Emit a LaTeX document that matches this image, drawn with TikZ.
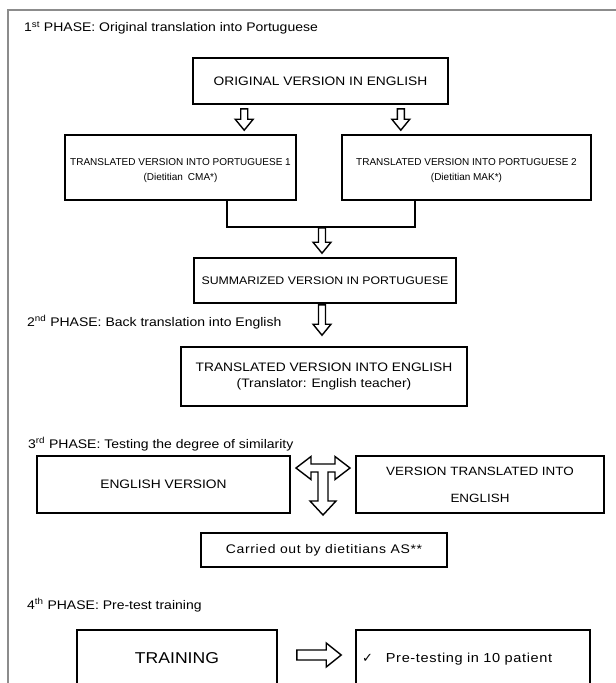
\documentclass[tikz,border=0pt]{standalone}
\usepackage{fontspec}
\setmainfont{Liberation Sans}[FakeStretch=1.12]
\newfontfamily\narrowfont{Liberation Sans}
\newfontfamily\widefont{Liberation Sans}[FakeStretch=1.12, LetterSpace=5]
\newfontfamily\symfont{DejaVu Sans}
\usetikzlibrary{calc}
\newcommand\fs[2]{\fontsize{#1}{#2}\selectfont}
\tikzset{
  box/.style={draw, line width=1.6pt, align=center, inner sep=3pt},
  phase/.style={anchor=west, inner sep=0pt, font=\fs{12.5}{14}},
  conn/.style={line width=1.6pt},
  frame/.style={draw=black!45, line width=1.1pt},
  hollow/.style n args={3}{fill=white, draw, line width=1.4pt, to path={
    let \p1=(\tikztostart), \p2=(\tikztotarget),
        \n1={atan2(\y2-\y1,\x2-\x1)} in
    ($(\p1)+(\n1+90:#1)$) --
    ($(\p2)+(\n1+180:#3)+(\n1+90:#1)$) --
    ($(\p2)+(\n1+180:#3)+(\n1+90:#2)$) --
    (\p2) --
    ($(\p2)+(\n1+180:#3)+(\n1-90:#2)$) --
    ($(\p2)+(\n1+180:#3)+(\n1-90:#1)$) --
    ($(\p1)+(\n1-90:#1)$) -- cycle}},
}

\begin{document}
\begin{tikzpicture}[x=1pt, y=-1pt]
  \useasboundingbox (0,0) rectangle (616,683);
  \draw[frame] (8,700) -- (8,10) -- (616,10);

  % 1st phase
  \node[phase] (ph1) at (24,28)
    {1\textsuperscript{st} PHASE: Original translation into Portuguese};
  \node[box, minimum width=255pt, minimum height=46pt, font=\fs{12.3}{15}]
    (orig) at (320.5,81) {ORIGINAL VERSION IN ENGLISH};
  \node[box, minimum width=231pt, minimum height=65pt, font=\narrowfont\fs{10}{15}]
    (ptone) at (180.5,167.5)
    {\rule{0pt}{14pt}TRANSLATED VERSION INTO PORTUGUESE 1\\(Dietitian\enspace CMA*)};
  \node[box, minimum width=249pt, minimum height=65pt, font=\narrowfont\fs{10}{15}]
    (pttwo) at (466.5,167.5)
    {\rule{0pt}{14pt}TRANSLATED VERSION INTO PORTUGUESE 2\\(Dietitian MAK*)};
  \node[box, minimum width=262pt, minimum height=45pt, font=\fs{11}{14}]
    (summ) at (325,280.5) {SUMMARIZED VERSION IN PORTUGUESE};

  \coordinate (a1) at ([xshift=52pt,yshift=-4pt]orig.south west);
  \coordinate (a2) at ([xshift=-48pt,yshift=-4pt]orig.south east);
  \coordinate (jn) at (322,227);
  \draw[hollow={3.5pt}{9pt}{11pt}] (a1) to ([yshift=4pt]a1 |- ptone.north);
  \draw[hollow={3.5pt}{9pt}{11pt}] (a2) to ([yshift=4pt]a2 |- ptone.north);
  \draw[conn] ([xshift=46.5pt]ptone.south) |- (jn)
    -| ([xshift=-51.5pt]pttwo.south);
  \draw[hollow={3.5pt}{9pt}{11pt}] ([yshift=-1pt]jn) to ([yshift=4pt]jn |- summ.north);

  % 2nd phase
  \node[phase] (ph2) at (27,322)
    {2\textsuperscript{nd} PHASE: Back translation into English};
  \node[box, minimum width=286pt, minimum height=59pt, font=\fs{12.3}{16}]
    (back) at (324,376.5)
    {TRANSLATED VERSION INTO ENGLISH\\(Translator: English teacher)};
  \draw[hollow={3.5pt}{9pt}{11pt}] ([yshift=-1pt]jn |- summ.south)
    to ([yshift=11pt]jn |- back.north);

  % 3rd phase
  \node[phase] (ph3) at (28,444)
    {3\textsuperscript{rd} PHASE: Testing the degree of similarity};
  \node[box, minimum width=253pt, minimum height=57pt, font=\fs{12.3}{15}]
    (engv) at (163.5,484.5) {ENGLISH VERSION};
  \node[box, minimum width=248pt, minimum height=57pt, font=\fs{12}{27}]
    (vtrans) at (480,484.5) {VERSION TRANSLATED INTO\\ENGLISH};
  \node[box, minimum width=246pt, minimum height=34pt, font=\widefont\fs{12.5}{15}]
    (carr) at (324,550) {Carried out by dietitians AS**};
  \coordinate (tc) at ($(engv.east)!0.5!(vtrans.west)+(0,-16.5)$);
  \draw[fill=white, line width=1.4pt, shift={(tc)}]
    (-27,0) -- (-12,-11.5) -- (-12,-4) -- (12,-4) -- (12,-11.5) -- (27,0)
    -- (12,11.5) -- (12,4) -- (5,4) -- (5,33) -- (13,33) -- (0,47)
    -- (-13,33) -- (-5,33) -- (-5,4) -- (-12,4) -- (-12,11.5) -- cycle;

  % 4th phase
  \node[phase] (ph4) at (27,605) {4\textsuperscript{th} PHASE: Pre-test training};
  \node[box, minimum width=200pt, minimum height=60pt, font=\fs{15.7}{18}]
    (train) at (177,660) {\raisebox{3pt}{TRAINING}};
  \node[box, minimum width=234pt, minimum height=60pt, font=\widefont\fs{13}{16},
    text width=222pt, align=left] (pret) at (473,660)
    {\raisebox{5pt}{{\symfont ✓}\quad Pre-testing in 10 patient}};
  \draw[hollow={5pt}{12pt}{15pt}] ([xshift=19pt,yshift=5pt]train.east)
    to ([xshift=-14pt,yshift=5pt]pret.west);
\end{tikzpicture}
\end{document}
